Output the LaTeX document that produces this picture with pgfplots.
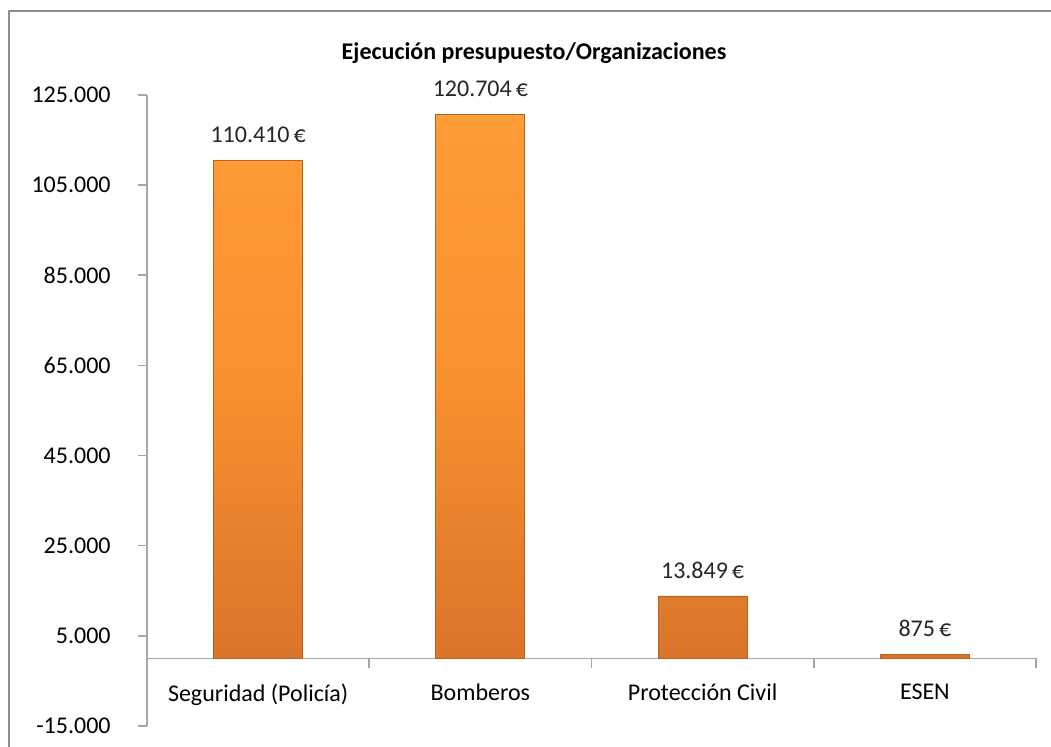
\documentclass[border=0pt,12pt]{standalone}
\usepackage{fontspec}
\setmainfont{Carlito}
\usepackage{pgfplots}
\pgfplotsset{compat=1.18}
\definecolor{bartop}{HTML}{FE9C36}
\definecolor{barmid}{HTML}{F8902F}
\definecolor{barbot}{HTML}{D9742A}
\definecolor{baredge}{HTML}{B9621F}
\definecolor{axgray}{HTML}{A6A6A6}
\definecolor{framegray}{HTML}{8E8E8E}

\begin{document}
\begin{tikzpicture}
\path[use as bounding box] (0,0) rectangle (525.5pt,373.5pt);
\draw[framegray, line width=1pt] (4.5pt,-2pt) -- (4.5pt,368pt) -- (530pt,368pt);
\node[font=\bfseries] at (267pt,347pt) {Ejecución presupuesto/Organizaciones};

\begin{axis}[
    at={(73.5pt,10.5pt)}, anchor=south west,
    scale only axis, width=444.5pt, height=315.5pt,
    xmin=-0.5, xmax=3.5, ymin=-15000, ymax=125000,
    axis x line=middle, axis y line=left,
    axis line style={axgray, line width=0.8pt, -},
    scaled y ticks=false,
    ytick={-15000,5000,25000,45000,65000,85000,105000,125000},
    yticklabels={-15.000,5.000,25.000,45.000,65.000,85.000,105.000,125.000},
    xtick={0,1,2,3},
    xticklabels={Seguridad (Policía),Bomberos,Protección Civil,ESEN},
    major x tick style={draw=none},
    ytick style={axgray, line width=0.8pt},
    tick align=outside, major tick length=4.5pt,
    yticklabel style={xshift=-9.5pt},
    xticklabel style={yshift=-4pt},
    ybar, bar width=44.5pt,
    nodes near coords, point meta=explicit symbolic,
    every node near coord/.append style={anchor=center, yshift=13pt, text=black!85},
    clip=false
]
\addplot[draw=baredge, line width=0.4pt, top color=bartop, bottom color=barbot, middle color=barmid]
coordinates {
    (0,110410) [110.410\,€]
    (1,120704) [120.704\,€]
    (2,13849) [13.849\,€]
    (3,875) [875\,€]
};
\draw[axgray, line width=0.8pt] (axis cs:0.5,0) -- ++(0pt,-5pt);
\draw[axgray, line width=0.8pt] (axis cs:1.5,0) -- ++(0pt,-5pt);
\draw[axgray, line width=0.8pt] (axis cs:2.5,0) -- ++(0pt,-5pt);
\draw[axgray, line width=0.8pt] (axis cs:3.5,0) -- ++(0pt,-5pt);
\end{axis}
\end{tikzpicture}
\end{document}
